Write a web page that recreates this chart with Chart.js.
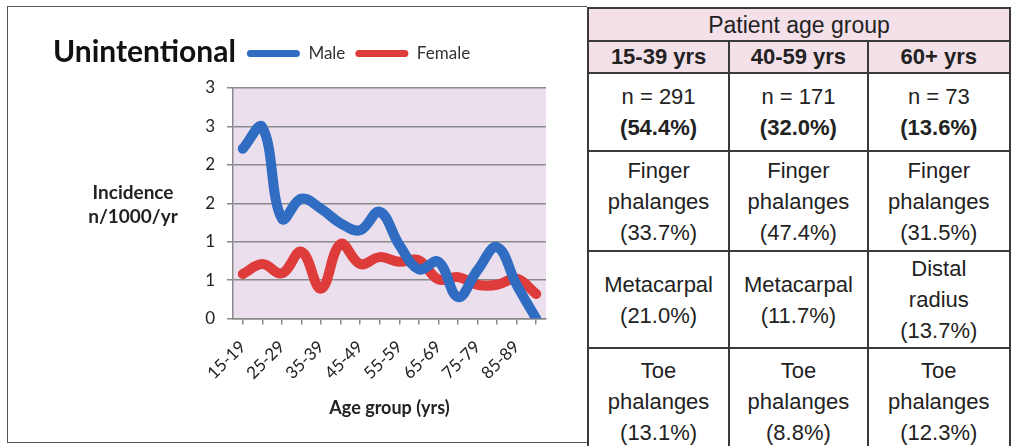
<!DOCTYPE html>
<html>
<head>
<meta charset="utf-8">
<script src="https://cdn.jsdelivr.net/npm/chart.js@4.4.1/dist/chart.umd.min.js"></script>
<style>
  html, body { margin:0; padding:0; background:#fff; }
  body { width:1011px; height:446px; overflow:hidden; position:relative; }
  #frame { position:absolute; left:7px; top:6px; width:580px; height:437px; border:1.5px solid #555; border-right:none; box-sizing:border-box; }
  #chartWrap { position:absolute; left:0; top:0; width:586px; height:446px; }
  #title { position:absolute; left:53px; top:32px; font:bold 30px Lato, sans-serif; color:#111; white-space:nowrap; }
  #ytitle { position:absolute; left:73px; top:180px; width:120px; text-align:center; font:bold 19px Lato, sans-serif; line-height:24px; color:#222; }
  #tbl { position:absolute; left:587px; top:7px; border-collapse:collapse; font-family:"Liberation Sans", Arial, sans-serif; color:#222; table-layout:fixed; }
  #tbl td { border:2px solid #3a3a3a; text-align:center; vertical-align:middle; padding:0; font-size:22px; line-height:31px; }
  #tbl tr.h td { background:#f3e0e8; }
  #tbl tr.h1 td { font-size:23px; height:31px; line-height:28px; }
  #tbl tr.h2 td { font-weight:bold; height:30px; line-height:28px; }
</style>
</head>
<body>
<div id="frame"></div>
<div id="chartWrap"><canvas id="c"></canvas></div>
<div id="title">Unintentional</div>
<div id="ytitle">Incidence<br>n/1000/yr</div>
<table id="tbl"></table>
<script>
// ---- chart data ----
const ageGroups = ['15-19','20-24','25-29','30-34','35-39','40-44','45-49','50-54','55-59','60-64','65-69','70-74','75-79','80-84','85-89','90+'];
const maleIncidence   = [2.21, 2.49, 1.30, 1.56, 1.43, 1.24, 1.15, 1.39, 0.96, 0.64, 0.74, 0.28, 0.63, 0.93, 0.44, 0.00];
const femaleIncidence = [0.58, 0.71, 0.59, 0.87, 0.39, 0.97, 0.71, 0.80, 0.74, 0.76, 0.51, 0.54, 0.44, 0.44, 0.52, 0.32];
const yTickLabels = ['0','1','1','2','2','3','3'];
const seriesNames = ['Male','Female'];

// ---- table data ----
const tableTitle = 'Patient age group';
const tableGroups = ['15-39 yrs','40-59 yrs','60+ yrs'];
const tableCounts = ['n = 291','n = 171','n = 73'];
const tableShares = ['(54.4%)','(32.0%)','(13.6%)'];
const site1 = [['Finger','phalanges','(33.7%)'],['Finger','phalanges','(47.4%)'],['Finger','phalanges','(31.5%)']];
const site2 = [['Metacarpal','(21.0%)'],['Metacarpal','(11.7%)'],['Distal','radius','(13.7%)']];
const site3 = [['Toe','phalanges','(13.1%)'],['Toe','phalanges','(8.8%)'],['Toe','phalanges','(12.3%)']];

// build table
(function(){
  const t = document.getElementById('tbl');
  const colW = [144,141,146];
  let html = '<colgroup>' + colW.map(w=>'<col style="width:'+w+'px">').join('') + '</colgroup>';
  html += '<tr class="h h1"><td colspan="3">'+tableTitle+'</td></tr>';
  html += '<tr class="h h2">' + tableGroups.map(g=>'<td>'+g+'</td>').join('') + '</tr>';
  html += '<tr style="height:78px">' + tableCounts.map((c,i)=>'<td>'+c+'<br><b>'+tableShares[i]+'</b></td>').join('') + '</tr>';
  const rowH = [100,97,106];
  [site1,site2,site3].forEach((row,ri)=>{
    html += '<tr style="height:'+rowH[ri]+'px">' + row.map(lines=>'<td>'+lines.join('<br>')+'</td>').join('') + '</tr>';
  });
  t.innerHTML = html;
})();

const plotBg = {
  id:'plotBg',
  beforeDraw(chart){
    const {ctx, chartArea:a} = chart;
    ctx.save(); ctx.fillStyle = '#ebdfee'; ctx.fillRect(a.left, a.top, a.right-a.left, a.bottom-a.top); ctx.restore();
  }
};
// extra space below the legend row
const legendGap = {
  id:'legendGap',
  beforeLayout(chart){
    const lg = chart.legend;
    if (lg && !lg._gapPatched){
      const f = lg.fit;
      lg.fit = function(){ f.call(this); this.height += 16; };
      lg._gapPatched = true;
    }
  }
};

Chart.defaults.font.family = 'Lato, sans-serif';
Chart.defaults.color = '#222';

new Chart(document.getElementById('c'), {
  type:'line',
  data:{
    labels: ageGroups,
    datasets:[
      { label: seriesNames[0], data: maleIncidence, borderColor:'#2f6cc2', backgroundColor:'#2f6cc2', borderWidth:10, tension:0.4, pointRadius:0, borderCapStyle:'round', borderJoinStyle:'round' },
      { label: seriesNames[1], data: femaleIncidence, borderColor:'#de3b3b', backgroundColor:'#de3b3b', borderWidth:10, tension:0.4, pointRadius:0, borderCapStyle:'round', borderJoinStyle:'round' }
    ]
  },
  options:{
    responsive:true, maintainAspectRatio:false, animation:false,
    layout:{ padding:{ left:171, right:40, top:35, bottom:27 } },
    plugins:{
      tooltip:{enabled:false},
      legend:{
        display:true, position:'top', align:'center',
        labels:{
          boxWidth:53, boxHeight:7, useBorderRadius:true, borderRadius:3.5,
          font:{size:17}, color:'#333', padding:10,
          generateLabels(chart){
            return Chart.defaults.plugins.legend.labels.generateLabels(chart).map(l=>Object.assign(l,{lineWidth:0, strokeStyle:'rgba(0,0,0,0)'}));
          }
        }
      }
    },
    scales:{
      x:{
        offset:true,
        grid:{ drawOnChartArea:false, drawTicks:true, tickLength:6, color:'#8a8a8a', lineWidth:1.5 },
        border:{ color:'#8a8a8a', width:1.5 },
        ticks:{ autoSkip:false, maxRotation:45, minRotation:45, font:{size:17}, color:'#222', padding:12,
          callback:(v,i)=> i%2===0 ? ageGroups[i] : '' },
        title:{ display:true, text:'Age group (yrs)', font:{size:18, weight:'bold'}, color:'#222', padding:{top:2, bottom:0} }
      },
      y:{
        min:0, max:3,
        afterFit(s){ s.width = 62; },
        grid:{ color:'#8a8a8a', lineWidth:1.5, tickLength:6 },
        border:{ color:'#8a8a8a', width:1.5 },
        ticks:{ stepSize:0.5, font:{size:17}, color:'#222', padding:12,
          callback:(v,i)=> yTickLabels[i] }
      }
    }
  },
  plugins:[plotBg, legendGap]
});
</script>
</body>
</html>
